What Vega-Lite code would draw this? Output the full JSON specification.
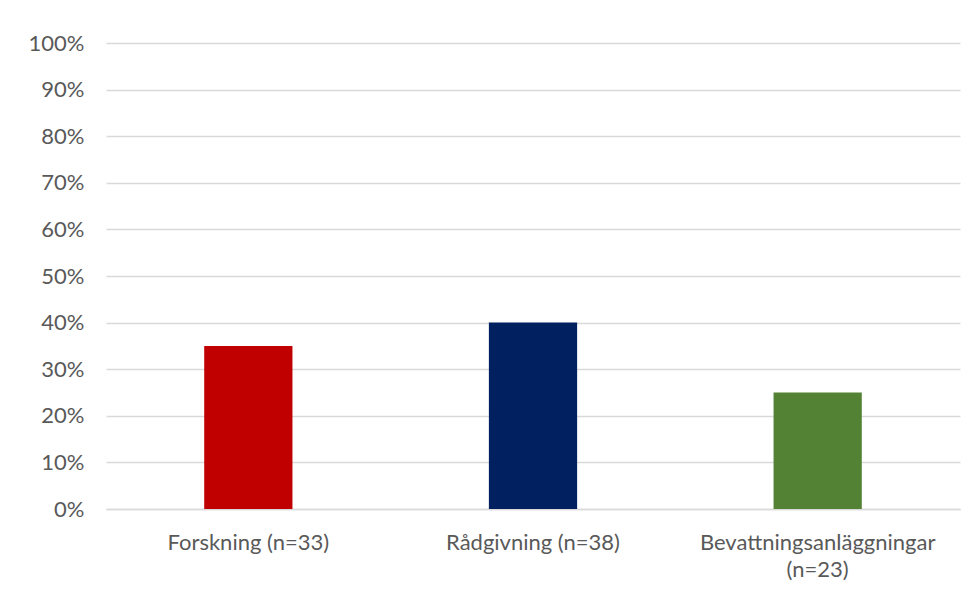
{
  "$schema": "https://vega.github.io/schema/vega-lite/v6.json",
  "width": 854,
  "height": 466,
  "autosize": {"type": "none"},
  "padding": {"left": 106, "top": 43, "right": 18, "bottom": 85},
  "background": "white",
  "data": {
    "values": [
      {"kategori": "Forskning (n=33)", "andel": 0.35},
      {"kategori": "Rådgivning (n=38)", "andel": 0.40},
      {"kategori": "Bevattningsanläggningar (n=23)", "andel": 0.25}
    ]
  },
  "mark": {"type": "bar"},
  "encoding": {
    "x": {
      "field": "kategori",
      "type": "nominal",
      "sort": null,
      "title": null,
      "scale": {"paddingInner": 0.69, "paddingOuter": 0.345},
      "axis": {
        "labelAngle": 0,
        "labelFont": "Lato",
        "labelFontSize": 22,
        "labelColor": "#595959",
        "labelPadding": 23,
        "labelLineHeight": 27,
        "labelLimit": 400,
        "labelExpr": "length(datum.label) > 20 ? ['Bevattningsanläggningar', '(n=23)'] : datum.label",
        "ticks": false,
        "domainColor": "#d9d9d9",
        "domainWidth": 1.5,
        "grid": false
      }
    },
    "y": {
      "field": "andel",
      "type": "quantitative",
      "title": null,
      "scale": {"domain": [0, 1], "nice": false},
      "axis": {
        "format": ".0%",
        "values": [0, 0.1, 0.2, 0.3, 0.4, 0.5, 0.6, 0.7, 0.8, 0.9, 1],
        "labelFont": "Lato",
        "labelFontSize": 22,
        "labelColor": "#595959",
        "labelPadding": 22,
        "ticks": false,
        "domain": false,
        "gridColor": "#d9d9d9",
        "gridWidth": 1.5
      }
    },
    "color": {
      "field": "kategori",
      "type": "nominal",
      "sort": null,
      "legend": null,
      "scale": {
        "domain": ["Forskning (n=33)", "Rådgivning (n=38)", "Bevattningsanläggningar (n=23)"],
        "range": ["#c00000", "#002060", "#548235"]
      }
    }
  },
  "config": {"view": {"stroke": null}}
}
